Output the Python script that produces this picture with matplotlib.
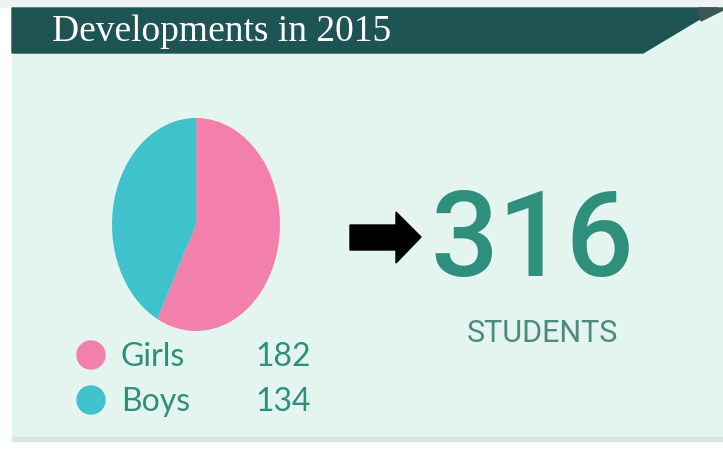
import matplotlib.pyplot as plt
from matplotlib.patches import Polygon, Circle, Rectangle

# --- data ---
labels = ['Girls', 'Boys']
counts = [182, 134]
colors = ['#f27fac', '#3fc2cc']
title = 'Developments in 2015'
total = sum(counts)

W, H = 723, 449
teal = '#2f8f7d'
bg = '#e4f5ef'
band = '#1e5453'

fig = plt.figure(figsize=(W / 100, H / 100), dpi=100)
fig.patch.set_facecolor('white')

# full-figure canvas in pixel coords
bgax = fig.add_axes([0, 0, 1, 1])
bgax.set_xlim(0, W)
bgax.set_ylim(H, 0)
bgax.axis('off')

bgax.add_patch(Rectangle((0, 0), W, 7, color='#eef3f1', zorder=0))
bgax.add_patch(Rectangle((12, 7), W - 12, 431, color=bg, zorder=0))
bgax.add_patch(Rectangle((12, 437), W - 12, 4, color='#d6e6e0', zorder=0))
# header band with slanted right end
bgax.add_patch(Polygon([(12, 8), (718, 8), (643, 53), (12, 53)],
                       closed=True, color=band, zorder=1))
bgax.add_patch(Polygon([(698, 8), (723, 8), (723, 10), (701, 21)], closed=True,
                       color='#3a5754', zorder=1))
bgax.text(52, 32, title, color='white', fontsize=27, family='Liberation Serif',
          va='center', ha='left', zorder=2)

# arrow
bgax.add_patch(Polygon([(350, 225), (396, 225), (396, 212), (421, 237),
                        (396, 263), (396, 250), (350, 250)], closed=True,
                       color='black', zorder=2))

# big number
bgax.text(532, 276, str(total), color=teal, fontsize=86, family='Roboto',
          fontweight='medium', ha='center', va='baseline', zorder=2)
bgax.text(542, 342, 'STUDENTS', color='#4d8b81', fontsize=22, family='Roboto',
          ha='center', va='baseline', zorder=2)

# legend
ys = [355, 400]
for lab, c, col, y in zip(labels, counts, colors, ys):
    bgax.add_patch(Circle((91, y), 14, color=col, zorder=2))
    bgax.text(121, y + 11, lab, color=teal, fontsize=23, family='Lato',
              ha='left', va='baseline', zorder=2)
    bgax.text(311, y + 11, str(c), color=teal, fontsize=23, family='Lato',
              ha='right', va='baseline', zorder=2)

# elliptical pie
pax = fig.add_axes([112 / W, (H - 331) / H, 168 / W, 213 / H])
pax.pie(counts, colors=colors, startangle=90, counterclock=False,
        wedgeprops=dict(linewidth=0))
pax.set_aspect('auto')
pax.set_xlim(-1, 1)
pax.set_ylim(-1, 1)
pax.axis('off')

fig.savefig('out.png', dpi=100, facecolor=fig.get_facecolor())
